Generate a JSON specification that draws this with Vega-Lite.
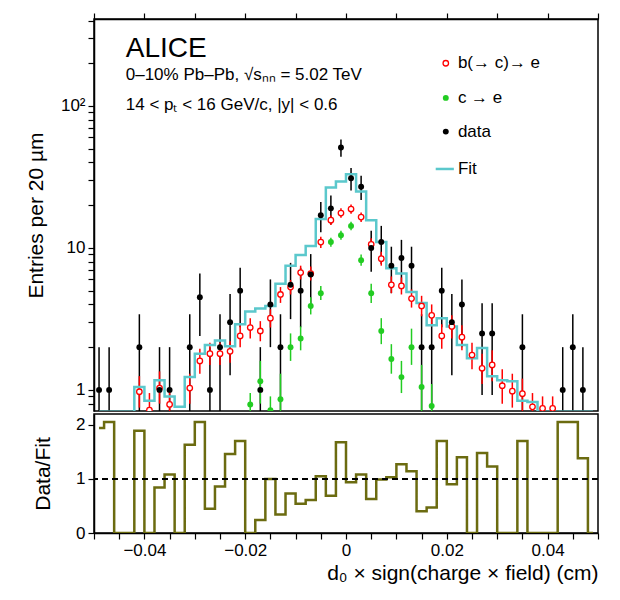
{
  "$schema": "https://vega.github.io/schema/vega-lite/v6.json",
  "background": "white",
  "padding": {"left": 24, "top": 10, "right": 20, "bottom": 5},
  "spacing": 0,
  "config": {
    "font": "Liberation Sans",
    "view": {"stroke": "black", "strokeWidth": 1.5},
    "axis": {"domainColor": "black", "tickColor": "black", "labelColor": "black", "titleColor": "black", "labelFont": "Liberation Sans", "titleFont": "Liberation Sans", "titleFontWeight": "normal", "labelFontSize": 17, "titleFontSize": 21, "grid": false, "tickSize": 6, "tickWidth": 1.2, "domainWidth": 1.5, "labelPadding": 3, "labelOverlap": false}
  },
  "datasets": {
    "bins": [
      {"x": -0.049, "d": 1, "dlo": 0.3, "dhi": 2, "fit": 0.7, "ratio": 1.94},
      {"x": -0.047, "d": 1, "dlo": 0.3, "dhi": 2, "fit": 0.7, "ratio": 2.05},
      {"x": -0.045, "fit": 0.7, "ratio": 0},
      {"x": -0.043, "fit": 0.7, "ratio": 0},
      {"x": -0.041, "d": 2, "dlo": 0.59, "dhi": 3.41, "b": 0.97, "blo": 0.75, "bhi": 1.25, "fit": 1.05, "ratio": 1.89},
      {"x": -0.039, "b": 0.72, "blo": 0.55, "bhi": 0.95, "fit": 0.84, "ratio": 0},
      {"x": -0.037, "d": 1, "dlo": 0.3, "dhi": 2, "b": 1.03, "blo": 0.8, "bhi": 1.35, "fit": 1.17, "ratio": 0.84},
      {"x": -0.035, "d": 1, "dlo": 0.3, "dhi": 2, "b": 0.79, "blo": 0.6, "bhi": 1.0, "fit": 0.9, "ratio": 1.08},
      {"x": -0.033, "fit": 0.76, "ratio": 0},
      {"x": -0.031, "d": 2, "dlo": 0.59, "dhi": 3.41, "b": 1.03, "blo": 0.8, "bhi": 1.3, "fit": 1.23, "ratio": 1.63},
      {"x": -0.029, "d": 4.5, "dlo": 2.4, "dhi": 6.6, "b": 1.6, "blo": 1.3, "bhi": 1.95, "fit": 1.8, "ratio": 2.05},
      {"x": -0.027, "d": 1, "dlo": 0.3, "dhi": 2, "b": 1.8, "blo": 1.5, "bhi": 2.15, "fit": 2.07, "ratio": 0.45},
      {"x": -0.025, "d": 2, "dlo": 0.59, "dhi": 3.41, "b": 1.8, "blo": 1.5, "bhi": 2.15, "fit": 2.23, "ratio": 0.86},
      {"x": -0.023, "d": 3, "dlo": 1.27, "dhi": 4.73, "b": 1.87, "blo": 1.55, "bhi": 2.2, "fit": 2.03, "ratio": 1.46},
      {"x": -0.021, "d": 5, "dlo": 2.76, "dhi": 7.24, "b": 2.4, "blo": 2.0, "bhi": 2.85, "fit": 2.9, "ratio": 1.7},
      {"x": -0.019, "b": 2.75, "blo": 2.3, "bhi": 3.2, "g": 0.79, "glo": 0.65, "ghi": 0.95, "fit": 3.56, "ratio": 0},
      {"x": -0.017, "d": 1, "dlo": 0.3, "dhi": 2, "b": 2.6, "blo": 2.2, "bhi": 3.05, "g": 1.15, "glo": 0.8, "ghi": 1.6, "fit": 3.75, "ratio": 0.24},
      {"x": -0.015, "d": 4, "dlo": 2, "dhi": 6, "b": 3.2, "blo": 2.75, "bhi": 3.7, "g": 0.72, "glo": 0.6, "ghi": 0.9, "fit": 3.9, "ratio": 1.0},
      {"x": -0.013, "d": 2, "dlo": 0.59, "dhi": 3.41, "b": 4.7, "blo": 4.1, "bhi": 5.3, "g": 0.86, "glo": 0.6, "ghi": 1.3, "fit": 5.6, "ratio": 0.34},
      {"x": -0.011, "d": 5.5, "dlo": 3.15, "dhi": 7.85, "b": 5.3, "blo": 4.7, "bhi": 5.95, "g": 2.0, "glo": 1.6, "ghi": 2.5, "fit": 7.5, "ratio": 0.73},
      {"x": -0.009, "d": 5, "dlo": 2.76, "dhi": 7.24, "b": 6.7, "blo": 6.0, "bhi": 7.5, "g": 2.3, "glo": 1.9, "ghi": 2.8, "fit": 8.9, "ratio": 0.54},
      {"x": -0.007, "d": 6.5, "dlo": 3.95, "dhi": 9.05, "b": 6.6, "blo": 5.9, "bhi": 7.4, "g": 3.9, "glo": 3.4, "ghi": 4.5, "fit": 10.3, "ratio": 0.61},
      {"x": -0.005, "d": 17, "dlo": 12.9, "dhi": 21.1, "b": 11, "blo": 10, "bhi": 12, "g": 4.8, "glo": 4.3, "ghi": 5.4, "fit": 16, "ratio": 1.05},
      {"x": -0.003, "d": 19, "dlo": 14.6, "dhi": 23.4, "b": 15.7, "blo": 14.5, "bhi": 17, "g": 11, "glo": 10.2, "ghi": 11.8, "fit": 26.7, "ratio": 0.69},
      {"x": -0.001, "d": 51, "dlo": 43.9, "dhi": 58.1, "b": 17.6, "blo": 16.3, "bhi": 19, "g": 12.3, "glo": 11.4, "ghi": 13.2, "fit": 29.4, "ratio": 1.68},
      {"x": 0.001, "d": 31, "dlo": 25.4, "dhi": 36.6, "b": 18.8, "blo": 17.4, "bhi": 20.2, "g": 14.3, "glo": 13.3, "ghi": 15.3, "fit": 33, "ratio": 0.94},
      {"x": 0.003, "d": 27, "dlo": 21.8, "dhi": 32.2, "b": 16.5, "blo": 15.2, "bhi": 17.8, "g": 8.2, "glo": 7.5, "ghi": 9, "fit": 25, "ratio": 1.08},
      {"x": 0.005, "d": 10, "dlo": 6.8, "dhi": 13.2, "b": 10.6, "blo": 9.6, "bhi": 11.7, "g": 4.8, "glo": 4.1, "ghi": 5.6, "fit": 15.7, "ratio": 0.63},
      {"x": 0.007, "d": 11, "dlo": 7.7, "dhi": 14.3, "b": 8.4, "blo": 7.5, "bhi": 9.4, "g": 2.6, "glo": 2.1, "ghi": 3.2, "fit": 11, "ratio": 0.99},
      {"x": 0.009, "d": 7.5, "dlo": 4.8, "dhi": 10.2, "b": 5.5, "blo": 4.8, "bhi": 6.3, "g": 1.65, "glo": 1.3, "ghi": 2.1, "fit": 7.2, "ratio": 1.03},
      {"x": 0.011, "d": 8.5, "dlo": 5.6, "dhi": 11.4, "b": 5.4, "blo": 4.7, "bhi": 6.2, "g": 1.23, "glo": 0.95, "ghi": 1.6, "fit": 6.6, "ratio": 1.27},
      {"x": 0.013, "d": 7.5, "dlo": 4.8, "dhi": 10.2, "b": 4.4, "blo": 3.8, "bhi": 5.1, "g": 2.0, "glo": 1.5, "ghi": 2.7, "fit": 4.9, "ratio": 1.14},
      {"x": 0.015, "d": 2, "dlo": 0.59, "dhi": 3.41, "b": 3.9, "blo": 3.3, "bhi": 4.6, "g": 1.05, "glo": 0.6, "ghi": 1.5, "fit": 4.1, "ratio": 0.4},
      {"x": 0.017, "d": 2, "dlo": 0.59, "dhi": 3.41, "b": 3.35, "blo": 2.8, "bhi": 4, "g": 0.77, "glo": 0.5, "ghi": 1.1, "fit": 2.85, "ratio": 0.47},
      {"x": 0.019, "d": 5, "dlo": 2.76, "dhi": 7.24, "b": 2.4, "blo": 1.95, "bhi": 2.9, "fit": 3.2, "ratio": 1.7},
      {"x": 0.021, "d": 3, "dlo": 1.27, "dhi": 4.73, "b": 2.8, "blo": 2.3, "bhi": 3.35, "fit": 2.8, "ratio": 0.9},
      {"x": 0.023, "d": 4, "dlo": 2, "dhi": 6, "b": 2.35, "blo": 1.9, "bhi": 2.85, "fit": 2.07, "ratio": 1.4},
      {"x": 0.025, "b": 1.76, "blo": 1.4, "bhi": 2.15, "fit": 1.67, "ratio": 0},
      {"x": 0.027, "d": 2.5, "dlo": 0.92, "dhi": 4.08, "b": 1.42, "blo": 1.1, "bhi": 1.8, "fit": 1.97, "ratio": 1.48},
      {"x": 0.029, "d": 2.5, "dlo": 0.92, "dhi": 4.08, "b": 1.5, "blo": 1.15, "bhi": 1.9, "fit": 1.25, "ratio": 1.23},
      {"x": 0.031, "b": 1.07, "blo": 0.8, "bhi": 1.4, "fit": 1.17, "ratio": 0},
      {"x": 0.033, "b": 0.98, "blo": 0.75, "bhi": 1.3, "fit": 1.15, "ratio": 0},
      {"x": 0.035, "d": 2, "dlo": 0.59, "dhi": 3.41, "b": 0.94, "blo": 0.7, "bhi": 1.2, "fit": 0.84, "ratio": 1.7},
      {"x": 0.037, "b": 0.76, "blo": 0.6, "bhi": 0.95, "fit": 0.82, "ratio": 0},
      {"x": 0.039, "b": 0.74, "blo": 0.6, "bhi": 0.9, "fit": 0.7, "ratio": 0},
      {"x": 0.041, "b": 0.74, "blo": 0.6, "bhi": 0.9, "fit": 0.7, "ratio": 0},
      {"x": 0.043, "d": 1, "dlo": 0.3, "dhi": 2, "fit": 0.7, "ratio": 2.05},
      {"x": 0.045, "d": 2, "dlo": 0.59, "dhi": 3.41, "fit": 0.7, "ratio": 2.05},
      {"x": 0.047, "d": 1, "dlo": 0.3, "dhi": 2, "fit": 0.7, "ratio": 1.38},
      {"x": 0.049, "fit": 0.7, "ratio": 0}
    ],
    "legend": [
      {"k": "b", "lx": 0.0198, "ly": 200, "tx": 0.0222, "label": "b(→ c)→ e"},
      {"k": "g", "lx": 0.0198, "ly": 114, "tx": 0.0222, "label": "c → e"},
      {"k": "d", "lx": 0.0198, "ly": 66, "tx": 0.0222, "label": "data"},
      {"k": "f", "lx": 0.0178, "lx2": 0.0214, "ly": 36, "tx": 0.0222, "label": "Fit"}
    ],
    "notes": [
      {"nx": -0.0437, "ny": 250, "t": "ALICE", "s": 28},
      {"nx": -0.0437, "ny": 165, "t": "0–10% Pb–Pb, √sₙₙ = 5.02 TeV", "s": 17},
      {"nx": -0.0437, "ny": 102, "t": "14 < pₜ < 16 GeV/c, |y| < 0.6", "s": 17}
    ],
    "unity": [{"r": 1}]
  },
  "vconcat": [
    {
      "width": 504,
      "height": 392,
      "layer": [
        {
          "data": {"name": "bins"},
          "transform": [{"filter": "isValid(datum.d)"}],
          "mark": {"type": "rule", "color": "black", "strokeWidth": 1.5, "clip": true},
          "encoding": {
            "x": {"field": "x", "type": "quantitative", "scale": {"domain": [-0.05, 0.05], "nice": false}, "axis": {"orient": "top", "labels": false, "title": null, "values": [-0.05, -0.045, -0.04, -0.035, -0.03, -0.025, -0.02, -0.015, -0.01, -0.005, 0, 0.005, 0.01, 0.015, 0.02, 0.025, 0.03, 0.035, 0.04, 0.045, 0.05]}},
            "y": {"field": "dlo", "type": "quantitative", "scale": {"type": "log", "domain": [0.71, 410], "nice": false}, "axis": {"title": "Entries per 20 µm", "titlePadding": 14, "values": [0.8, 0.9, 1, 2, 3, 4, 5, 6, 7, 8, 9, 10, 20, 30, 40, 50, 60, 70, 80, 90, 100, 200, 300, 400], "labelExpr": "datum.value == 1 ? '1' : datum.value == 10 ? '10' : datum.value == 100 ? '10²' : ''"}},
            "y2": {"field": "dhi"}
          }
        },
        {
          "data": {"name": "bins"},
          "transform": [{"filter": "isValid(datum.b)"}],
          "mark": {"type": "rule", "color": "red", "strokeWidth": 1.5, "clip": true},
          "encoding": {"x": {"field": "x", "type": "quantitative"}, "y": {"field": "blo", "type": "quantitative"}, "y2": {"field": "bhi"}}
        },
        {
          "data": {"name": "bins"},
          "transform": [{"filter": "isValid(datum.g)"}],
          "mark": {"type": "rule", "color": "#22cc22", "strokeWidth": 1.5, "clip": true},
          "encoding": {"x": {"field": "x", "type": "quantitative"}, "y": {"field": "glo", "type": "quantitative"}, "y2": {"field": "ghi"}}
        },
        {
          "data": {"name": "bins"},
          "mark": {"type": "line", "interpolate": "step", "color": "#5bc8cc", "strokeWidth": 2.5, "clip": true},
          "encoding": {"x": {"field": "x", "type": "quantitative"}, "y": {"field": "fit", "type": "quantitative"}}
        },
        {
          "data": {"name": "bins"},
          "transform": [{"filter": "isValid(datum.b)"}],
          "mark": {"type": "point", "shape": "circle", "filled": true, "fill": "white", "stroke": "red", "strokeWidth": 1.3, "size": 30, "opacity": 1, "clip": true},
          "encoding": {"x": {"field": "x", "type": "quantitative"}, "y": {"field": "b", "type": "quantitative"}}
        },
        {
          "data": {"name": "bins"},
          "transform": [{"filter": "isValid(datum.g)"}],
          "mark": {"type": "point", "shape": "circle", "filled": true, "color": "#22cc22", "size": 35, "opacity": 1, "clip": true},
          "encoding": {"x": {"field": "x", "type": "quantitative"}, "y": {"field": "g", "type": "quantitative"}}
        },
        {
          "data": {"name": "bins"},
          "transform": [{"filter": "isValid(datum.d)"}],
          "mark": {"type": "point", "shape": "circle", "filled": true, "color": "black", "size": 35, "opacity": 1, "clip": true},
          "encoding": {"x": {"field": "x", "type": "quantitative"}, "y": {"field": "d", "type": "quantitative"}}
        },
        {
          "data": {"name": "legend"},
          "transform": [{"filter": "datum.k == 'b'"}],
          "mark": {"type": "point", "shape": "circle", "filled": true, "fill": "white", "stroke": "red", "strokeWidth": 1.3, "size": 30, "opacity": 1},
          "encoding": {"x": {"field": "lx", "type": "quantitative"}, "y": {"field": "ly", "type": "quantitative"}}
        },
        {
          "data": {"name": "legend"},
          "transform": [{"filter": "datum.k == 'g'"}],
          "mark": {"type": "point", "shape": "circle", "filled": true, "color": "#22cc22", "size": 35, "opacity": 1},
          "encoding": {"x": {"field": "lx", "type": "quantitative"}, "y": {"field": "ly", "type": "quantitative"}}
        },
        {
          "data": {"name": "legend"},
          "transform": [{"filter": "datum.k == 'd'"}],
          "mark": {"type": "point", "shape": "circle", "filled": true, "color": "black", "size": 35, "opacity": 1},
          "encoding": {"x": {"field": "lx", "type": "quantitative"}, "y": {"field": "ly", "type": "quantitative"}}
        },
        {
          "data": {"name": "legend"},
          "transform": [{"filter": "datum.k == 'f'"}],
          "mark": {"type": "rule", "color": "#5bc8cc", "strokeWidth": 2.5},
          "encoding": {"x": {"field": "lx", "type": "quantitative"}, "x2": {"field": "lx2"}, "y": {"field": "ly", "type": "quantitative"}}
        },
        {
          "data": {"name": "legend"},
          "mark": {"type": "text", "align": "left", "baseline": "middle", "fontSize": 17, "color": "black"},
          "encoding": {"x": {"field": "tx", "type": "quantitative"}, "y": {"field": "ly", "type": "quantitative"}, "text": {"field": "label"}}
        },
        {
          "data": {"name": "notes"},
          "mark": {"type": "text", "align": "left", "baseline": "middle", "color": "black"},
          "encoding": {"x": {"field": "nx", "type": "quantitative"}, "y": {"field": "ny", "type": "quantitative"}, "text": {"field": "t"}, "size": {"field": "s", "type": "quantitative", "scale": null}}
        }
      ]
    },
    {
      "width": 504,
      "height": 119,
      "layer": [
        {
          "data": {"name": "bins"},
          "mark": {"type": "line", "interpolate": "step", "color": "#6b6b10", "strokeWidth": 2.5, "clip": true},
          "encoding": {
            "x": {"field": "x", "type": "quantitative", "scale": {"domain": [-0.05, 0.05], "nice": false}, "axis": {"title": "d₀ × sign(charge × field) (cm)", "titleAnchor": "end", "titleFontSize": 21, "values": [-0.05, -0.045, -0.04, -0.035, -0.03, -0.025, -0.02, -0.015, -0.01, -0.005, 0, 0.005, 0.01, 0.015, 0.02, 0.025, 0.03, 0.035, 0.04, 0.045, 0.05], "labelExpr": "datum.value == 0 ? '0' : indexof(['−0.040', '−0.020', '0.020', '0.040', '-0.040', '-0.020'], format(datum.value, '.3f')) >= 0 ? replace(format(datum.value, '.2f'), '-', '−') : ''", "titlePadding": 4}},
            "y": {"field": "ratio", "type": "quantitative", "scale": {"domain": [0, 2.2], "nice": false}, "axis": {"title": "Data/Fit", "titlePadding": 22, "values": [0, 1, 2], "format": "d"}}
          }
        },
        {
          "data": {"name": "unity"},
          "mark": {"type": "rule", "color": "black", "strokeDash": [6, 4], "strokeWidth": 2},
          "encoding": {"y": {"field": "r", "type": "quantitative", "axis": {"title": "Data/Fit", "titlePadding": 22, "values": [0, 1, 2], "format": "d"}}}
        }
      ]
    }
  ]
}
